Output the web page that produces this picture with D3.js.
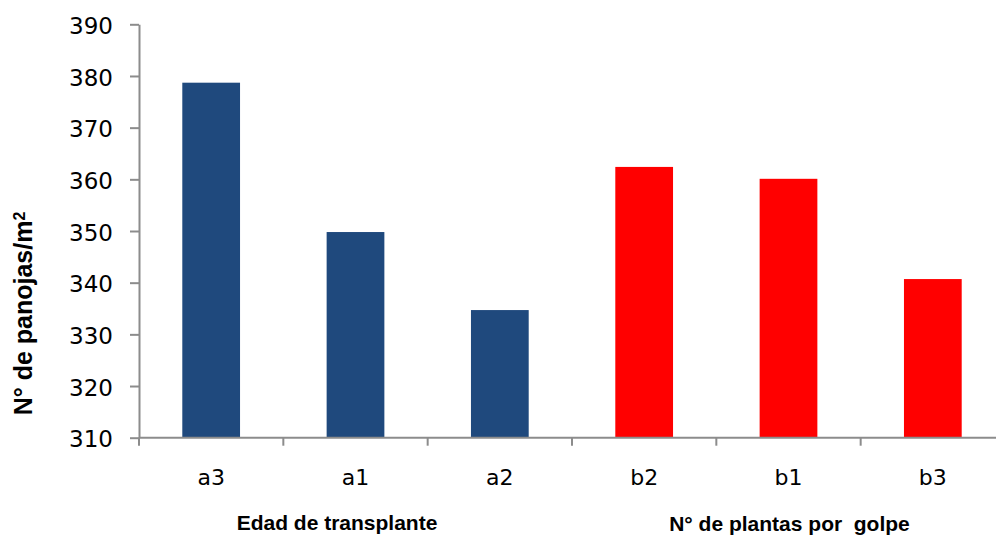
<!DOCTYPE html>
<html>
<head>
<meta charset="utf-8">
<script src="https://cdn.jsdelivr.net/npm/d3@7"></script>
<style>
  html, body { margin: 0; padding: 0; background: #fff; }
  svg { display: block; }
</style>
</head>
<body>
<svg id="chart" width="996" height="537"></svg>
<script>
// Panicles per m² by treatment
const categories = ["a3", "a1", "a2", "b2", "b1", "b3"];
const values = [378.7, 349.8, 334.7, 362.4, 360.1, 340.7];
const groups = ["a", "a", "a", "b", "b", "b"];
const yTicks = [310, 320, 330, 340, 350, 360, 370, 380, 390];
const groupTitles = ["Edad de transplante", "N° de plantas por  golpe"];
const groupColors = { a: "#1F497D", b: "#FF0000" };

const svg = d3.select("#chart");
const plotLeft = 139, plotTop = 24.3, plotBottom = 437.7, plotRight = 1005;

const x = d3.scaleBand()
  .domain(categories)
  .range([plotLeft, plotRight])
  .paddingInner(0.6)
  .paddingOuter(0.3);

const y = d3.scaleLinear()
  .domain([310, 390])
  .range([plotBottom, plotTop]);

const axisColor = "#8c8c8c";

// bars
svg.append("g")
  .selectAll("rect")
  .data(categories)
  .join("rect")
  .attr("x", d => x(d))
  .attr("width", x.bandwidth())
  .attr("y", (d, i) => y(values[i]))
  .attr("height", (d, i) => y(310) - y(values[i]))
  .attr("fill", (d, i) => groupColors[groups[i]]);

// y axis
const yAxis = svg.append("g")
  .attr("transform", `translate(${plotLeft},0)`)
  .call(d3.axisLeft(y).tickValues(yTicks).tickSize(9).tickPadding(17).tickSizeOuter(0));
yAxis.select(".domain").attr("stroke", axisColor).attr("stroke-width", 2);
yAxis.selectAll(".tick line").attr("stroke", axisColor).attr("stroke-width", 2);
yAxis.selectAll(".tick text")
  .attr("fill", "#000")
  .style("font-family", "'DejaVu Sans', Verdana, sans-serif")
  .style("font-size", "23px")
  .attr("dy", "0.4em");

// x axis: line plus boundary ticks between categories
const step = x.step();
const boundaries = d3.range(categories.length + 1).map(i => plotLeft + i * step);
const xAxisG = svg.append("g");
xAxisG.append("line")
  .attr("x1", plotLeft).attr("x2", 996)
  .attr("y1", plotBottom).attr("y2", plotBottom)
  .attr("stroke", axisColor).attr("stroke-width", 2);
xAxisG.selectAll("line.tick")
  .data(boundaries)
  .join("line")
  .attr("class", "tick")
  .attr("x1", d => d).attr("x2", d => d)
  .attr("y1", plotBottom).attr("y2", plotBottom + 8)
  .attr("stroke", axisColor).attr("stroke-width", 2);

xAxisG.selectAll("text")
  .data(categories)
  .join("text")
  .attr("x", d => x(d) + x.bandwidth() / 2)
  .attr("y", 485)
  .attr("text-anchor", "middle")
  .style("font-family", "'DejaVu Sans', Verdana, sans-serif")
  .style("font-size", "22px")
  .attr("fill", "#000")
  .text(d => d);

// group titles
svg.append("text")
  .attr("x", 337).attr("y", 530)
  .attr("text-anchor", "middle")
  .style("font-family", "'Liberation Sans', Arial, sans-serif")
  .style("font-weight", "bold")
  .style("font-size", "21px")
  .text(groupTitles[0]);

svg.append("text")
  .attr("x", 789.5).attr("y", 531)
  .attr("text-anchor", "middle")
  .style("font-family", "'Liberation Sans', Arial, sans-serif")
  .style("font-weight", "bold")
  .style("font-size", "21px")
  .style("white-space", "pre")
  .attr("xml:space", "preserve")
  .text(groupTitles[1]);

// y axis title
const yt = svg.append("text")
  .attr("transform", "translate(32,313.5) rotate(-90)")
  .attr("text-anchor", "middle")
  .style("font-family", "'Liberation Sans', Arial, sans-serif")
  .style("font-weight", "bold")
  .style("font-size", "25px");
yt.append("tspan").text("N° de panojas/m");
yt.append("tspan").attr("dy", "-0.45em").style("font-size", "16px").text("2");
</script>
</body>
</html>
